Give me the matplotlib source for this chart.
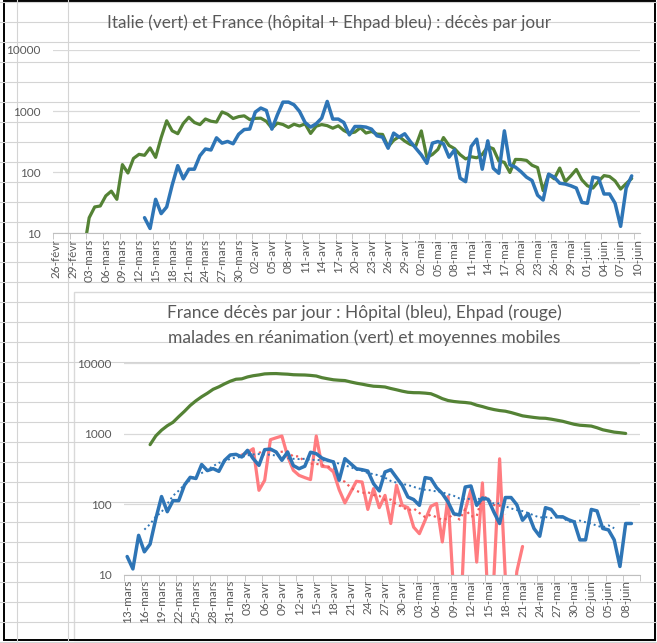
import datetime
import numpy as np
import pandas as pd
import matplotlib
matplotlib.use("Agg")
import matplotlib.pyplot as plt
from matplotlib.patches import Rectangle

plt.rcParams['font.family'] = ['Lato', 'DejaVu Sans']

MOIS = {2: "févr", 3: "mars", 4: "avr", 5: "mai", 6: "juin"}


def jours(mois, jour, n):
    d0 = datetime.date(2020, mois, jour)
    out = []
    for k in range(n):
        d = d0 + datetime.timedelta(days=k)
        out.append("%02d-%s" % (d.day, MOIS[d.month]))
    return out


# ---- graphique du haut : 26-févr -> 10-juin
dates_haut = jours(2, 26, 106)

italie = ([3, 2, 5, 4] +
          [8, 5, 18, 27, 28, 41, 49, 36, 133, 97, 168, 196, 189, 250, 175, 368,
           694, 475, 427, 627, 793, 651, 601, 743, 683, 662, 969, 889, 756, 812, 837] +
          [727, 760, 766, 681, 525, 636, 604, 542, 610, 570, 619, 431, 566, 602, 578,
           525, 575, 482, 433, 454, 534, 437, 464, 420, 415, 260, 333, 382, 323, 285] +
          [269, 474, 174, 195, 236, 369, 274, 243, 194, 165, 179, 172, 195, 262, 242,
           153, 145, 99, 162, 161, 156, 130, 119, 50, 92, 78, 117, 70, 87, 111, 75] +
          [60, 55, 71, 88, 85, 72, 53, 65, 79, None])

france_tot = ([None] * 16 +
              [18, 12, 36, 21, 27, 62, 128, 78, 112, 112, 186, 240, 231, 365, 299, 319,
               292, 418, 499] +
              [509, 964, 1122, 1025, 507, 871, 1403, 1403, 1268, 987, 651, 547, 620, 767,
               1440, 740, 740, 650, 408, 560, 560, 547, 507, 394, 375, 247, 436, 375, 425, 318] +
              [247, 192, 140, 299, 318, 291, 176, 232, 80, 70, 263, 347, 112, 326, 116,
               96, 475, 132, 121, 102, 83, 73, 42, 35, 93, 83, 66, 64, 60, 55, 32] +
              [31, 83, 80, 44, 44, 31, 13, 55, 87, None])

# ---- graphique du bas : 13-mars -> 10-juin
dates_bas = jours(3, 13, 90)

hopital = ([18, 12, 36, 21, 27, 62, 128, 78, 112, 112, 186, 240, 231, 365, 299, 319,
            292, 418, 499] +
           [509, 467, 580, 442, 355, 593, 605, 550, 419, 550, 353, 318, 345, 545, 520,
            450, 419, 397, 218, 442, 375, 318, 308, 295, 195, 154, 286, 308, 238, 185] +
           [126, 116, 96, 238, 230, 171, 141, 107, 73, 70, 175, 181, 96, 122, 117,
            77, 53, 124, 124, 98, 59, 73, 45, 35, 89, 84, 66, 66, 60, 56, 31] +
           [31, 84, 80, 45, 43, 31, 13, 53, 53, None])

ehpad = ([None] * 20 +
         [497, 540, 612, 157, 218, 822, 875, 927, 480, 302, 256, 238, 223, 927, 344,
          337, 286, 160, 104, 148, 211, 206, 84, 166, 89, 133, 53, 185, 96] +
         [89, 47, 38, 59, 93, 102, 29, 128, 5, 1, 82, 162, 15, 200, 3.5, 9, 440, 9,
          1, 11, 25] +
         [None] * 20)

reanimation = ([None] * 4 +
               [699, 931, 1122, 1297, 1453, 1746, 2080, 2516, 2935, 3351, 3758, 4273,
                4632, 5107, 5565] +
               [5940, 6017, 6399, 6662, 6838, 7072, 7131, 7148, 7066, 7004, 6883, 6845,
                6821, 6730, 6599, 6248, 6027, 5833, 5744, 5683, 5433, 5218, 5053, 4870,
                4725, 4682, 4608, 4387, 4207, 4019] +
               [3878, 3827, 3819, 3770, 3696, 3430, 3147, 2961, 2868, 2812, 2776, 2712,
                2542, 2429, 2299, 2203, 2132, 2087, 1998, 1894, 1794, 1745, 1701, 1665,
                1655, 1609, 1555, 1501, 1429, 1361, 1319] +
               [1302, 1283, 1215, 1137, 1094, 1053, 1033, 1008, None, None])

VERT = '#548235'
BLEU = '#2E75B6'
ROUGE = '#FF7C80'
ROUGE_MM = '#F25C5C'
TXT = '#595959'
GRILLE = '#D9D9D9'

W, H = 657, 643
fig = plt.figure(figsize=(W / 100, H / 100), dpi=100)

# fond : feuille excel
bg = fig.add_axes([0, 0, 1, 1])
bg.set_xlim(0, W)
bg.set_ylim(H, 0)
bg.axis('off')
for y in np.arange(1.7, H, 20):
    bg.plot([0, W], [y, y], color='#D4D4D4', lw=0.8)
for x in [17.3, 67.7]:
    bg.plot([x, x], [0, H], color='#D4D4D4', lw=0.8)
bg.add_patch(Rectangle((4, 1), 651, 289.5, fc='white', ec='none'))
bg.add_patch(Rectangle((74, 291.5), 581, 348.5, fc='white', ec=GRILLE, lw=1))
bg.add_patch(Rectangle((4, 1), 651, 639, fc='none', ec='black', lw=1.4))

bg.text(329, 23, "Italie (vert) et France (hôpital + Ehpad bleu) : décès par jour",
        ha='center', va='center', fontsize=12.3, color=TXT)
bg.text(364, 313, "France décès par jour : Hôpital (bleu), Ehpad (rouge)",
        ha='center', va='center', fontsize=12.5, color=TXT)
bg.text(364, 338, "malades en réanimation (vert) et moyennes mobiles",
        ha='center', va='center', fontsize=12.5, color=TXT)


def habille(ax, labels):
    n = len(labels)
    ax.set_facecolor('none')
    ax.set_yscale('log')
    ax.set_ylim(10, 10000)
    ax.set_xlim(-0.5, n - 0.5)
    ax.set_yticks([10, 100, 1000, 10000])
    ax.set_yticklabels(['10', '100', '1000', '10000'])
    ax.yaxis.set_minor_locator(plt.NullLocator())
    ax.grid(axis='y', color=GRILLE, lw=0.9)
    ax.set_axisbelow(True)
    for s in ['left', 'right', 'top']:
        ax.spines[s].set_visible(False)
    ax.spines['bottom'].set_color('#BFBFBF')
    ax.set_xticks(range(0, n, 3))
    ax.set_xticklabels(labels[::3], rotation=90)
    ax.set_xticks(np.arange(-0.5, n + 0.5, 3), minor=True)
    ax.tick_params(axis='x', which='major', length=0, pad=4, labelsize=8.5, labelcolor=TXT)
    ax.tick_params(axis='x', which='minor', length=4, color='#BFBFBF')
    ax.tick_params(axis='y', length=0, pad=9, labelsize=8.5, labelcolor=TXT)


def serie(v):
    return np.array([np.nan if a is None else a for a in v], dtype=float)


lw = dict(solid_joinstyle='round', solid_capstyle='round')

# haut
ax1 = fig.add_axes([53.2 / W, 1 - 233.3 / H, (640 - 53.2) / W, (233.3 - 50) / H])
ax1.set_zorder(2)
x1 = np.arange(len(dates_haut))
ax1.plot(x1, serie(italie), color=VERT, lw=2.3, **lw)
ax1.plot(x1, serie(france_tot), color=BLEU, lw=2.5, **lw)
habille(ax1, dates_haut)

# bas
ax2 = fig.add_axes([124.3 / W, 1 - 574.5 / H, (640 - 124.3) / W, (574.5 - 363.3) / H])
ax2.set_zorder(2)
x2 = np.arange(len(dates_bas))
hop = serie(hopital)
eh = serie(ehpad)
ax2.plot(x2, serie(reanimation), color=VERT, lw=2.3, **lw)
ax2.plot(x2, eh, color=ROUGE, lw=2.3, **lw)
ax2.plot(x2, pd.Series(eh).rolling(7, center=True).mean(), color=ROUGE_MM,
         lw=1.6, ls=(0, (1, 1.6)))
ax2.plot(x2, hop, color=BLEU, lw=2.5, **lw)
ax2.plot(x2, pd.Series(hop).rolling(7, center=True).mean(), color=BLEU,
         lw=1.4, ls=(0, (1, 1.6)))
habille(ax2, dates_bas)

fig.savefig("out.png", dpi=100)
